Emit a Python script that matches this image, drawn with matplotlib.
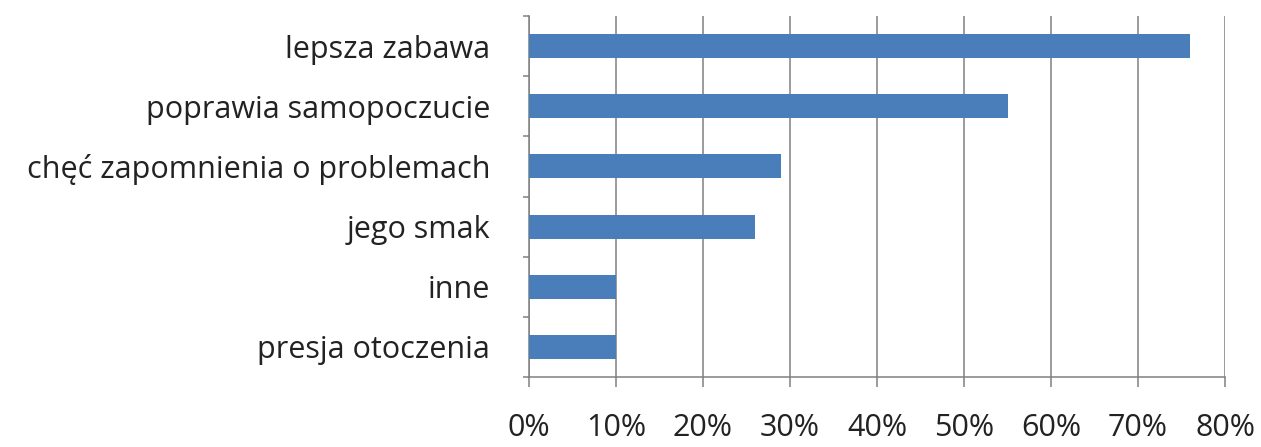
import matplotlib
matplotlib.use('Agg')
import matplotlib.pyplot as plt
from matplotlib.ticker import PercentFormatter, FixedLocator

# Powody picia alkoholu - odsetek odpowiedzi
categories = ['lepsza zabawa', 'poprawia samopoczucie', 'chęć zapomnienia o problemach',
              'jego smak', 'inne', 'presja otoczenia']
shares = [0.76, 0.55, 0.29, 0.26, 0.10, 0.10]
x_ticks = [0.0, 0.1, 0.2, 0.3, 0.4, 0.5, 0.6, 0.7, 0.8]

BAR = '#4a7ebb'
GRID = '#808080'
TEXT = '#222222'

plt.rcParams['font.family'] = ['Open Sans', 'DejaVu Sans']

fig = plt.figure(figsize=(12.61, 4.47), dpi=100)
ax = fig.add_axes([529 / 1261, 70 / 447, 696 / 1261, 361 / 447])

pos = list(range(len(categories)))
ax.barh(pos, shares, height=0.4, color=BAR, zorder=3)

ax.set_xlim(0, 0.8)
ax.set_ylim(len(categories) - 0.5, -0.5)

ax.xaxis.set_major_locator(FixedLocator(x_ticks))
ax.xaxis.set_major_formatter(PercentFormatter(1.0, decimals=0))
ax.grid(axis='x', color=GRID, linewidth=1.1, zorder=1)
ax.set_axisbelow(True)

ax.set_yticks(pos)
ax.set_yticklabels(categories)
ax.set_yticks([p - 0.5 for p in pos] + [len(pos) - 0.5], minor=True)

for side in ('top', 'right'):
    ax.spines[side].set_visible(False)
for side in ('left', 'bottom'):
    ax.spines[side].set_color(GRID)
    ax.spines[side].set_linewidth(1.1)

ax.tick_params(axis='y', which='major', length=0, pad=28, labelsize=22, labelcolor=TEXT)
ax.tick_params(axis='y', which='minor', length=4, width=1.1, color=GRID)
ax.tick_params(axis='x', which='major', length=7, width=1.1, color=GRID,
               pad=19, labelsize=22, labelcolor=TEXT)

fig.savefig('out.png', dpi=100)
